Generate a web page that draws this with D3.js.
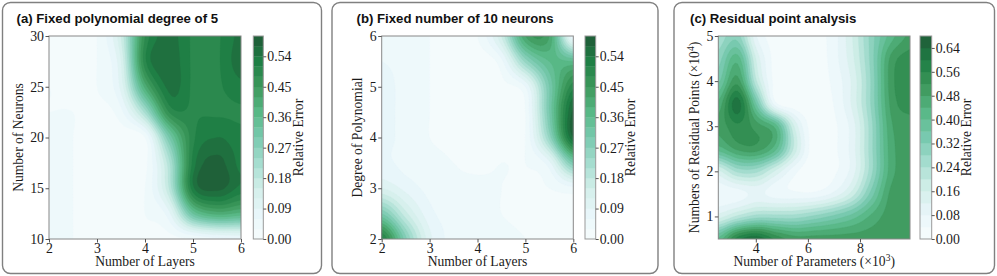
<!DOCTYPE html>
<html>
<head>
<meta charset="utf-8">
<script src="https://cdn.jsdelivr.net/npm/d3@7"></script>
<style>
body { margin: 0; background: #fff; }
svg text { font-family: "Liberation Serif", "DejaVu Serif", serif; fill: #1a1a1a; }
</style>
</head>
<body>
<script>
// (a) rows go from the top of the plot (30 neurons) down to 10
var layersA = [2, 2.5, 3, 3.5, 4, 4.5, 5, 5.5, 6];
var neuronsA = [30, 27.5, 25, 22.5, 20, 17.5, 15, 12.5, 10];
var errorA = [
  [0.02, 0.01, 0.03, 0.15, 0.48, 0.55, 0.505, 0.505, 0.55],
  [0.02, 0.01, 0.03, 0.12, 0.50, 0.56, 0.505, 0.505, 0.56],
  [0.03, 0.02, 0.03, 0.10, 0.40, 0.55, 0.505, 0.505, 0.53],
  [0.03, 0.03, 0.02, 0.05, 0.22, 0.48, 0.505, 0.505, 0.505],
  [0.04, 0.03, 0.02, 0.01, 0.03, 0.30, 0.50, 0.54, 0.52],
  [0.04, 0.03, 0.02, 0.01, 0.02, 0.20, 0.52, 0.58, 0.53],
  [0.04, 0.03, 0.02, 0.01, 0.03, 0.18, 0.53, 0.58, 0.53],
  [0.04, 0.03, 0.02, 0.02, 0.03, 0.08, 0.33, 0.40, 0.38],
  [0.04, 0.03, 0.02, 0.02, 0.02, 0.02, 0.03, 0.05, 0.06]
];
var xTicksA = [2, 3, 4, 5, 6];
var yTicksA = [10, 15, 20, 25, 30];
var cbTicksA = [0, 0.09, 0.18, 0.27, 0.36, 0.45, 0.54];

// (b) rows go from degree 6 down to 2
var layersB = [2, 2.5, 3, 3.5, 4, 4.5, 5, 5.5, 6];
var degreeB = [6, 5.5, 5, 4.5, 4, 3.5, 3, 2.5, 2];
var errorB = [
  [0.05, 0.04, 0.03, 0.02, 0.03, 0.15, 0.42, 0.42, 0.05],
  [0.06, 0.05, 0.03, 0.01, 0.01, 0.05, 0.25, 0.36, 0.36],
  [0.07, 0.05, 0.03, 0.01, 0.01, 0.02, 0.06, 0.30, 0.50],
  [0.07, 0.05, 0.03, 0.01, 0.01, 0.01, 0.03, 0.30, 0.58],
  [0.07, 0.05, 0.03, 0.02, 0.01, 0.01, 0.03, 0.25, 0.57],
  [0.07, 0.05, 0.04, 0.03, 0.02, 0.03, 0.03, 0.08, 0.30],
  [0.12, 0.08, 0.05, 0.04, 0.04, 0.03, 0.02, 0.03, 0.05],
  [0.30, 0.16, 0.07, 0.05, 0.04, 0.03, 0.02, 0.02, 0.03],
  [0.52, 0.28, 0.10, 0.05, 0.04, 0.04, 0.03, 0.02, 0.03]
];
var xTicksB = [2, 3, 4, 5, 6];
var yTicksB = [2, 3, 4, 5, 6];
var cbTicksB = [0, 0.09, 0.18, 0.27, 0.36, 0.45, 0.54];

// (c) parameters (x10^3) by residual points (x10^4), rows from 5 down to 0.5
var paramsC = [2.56, 3.296, 4.032, 4.768, 5.504, 6.24, 6.976, 7.712, 8.448, 9.184, 9.92];
var pointsC = [5, 4.5, 4, 3.5, 3, 2.5, 2, 1.5, 1, 0.5];
var errorC = [
  [0.25, 0.30, 0.08, 0.02, 0.01, 0.02, 0.06, 0.16, 0.30, 0.42, 0.49],
  [0.30, 0.42, 0.15, 0.02, 0.01, 0.01, 0.06, 0.15, 0.30, 0.49, 0.54],
  [0.35, 0.50, 0.20, 0.02, 0.01, 0.01, 0.05, 0.13, 0.29, 0.50, 0.55],
  [0.45, 0.62, 0.35, 0.05, 0.01, 0.01, 0.04, 0.13, 0.29, 0.49, 0.54],
  [0.49, 0.55, 0.50, 0.42, 0.15, 0.01, 0.03, 0.10, 0.27, 0.47, 0.50],
  [0.42, 0.49, 0.50, 0.41, 0.18, 0.01, 0.03, 0.10, 0.27, 0.46, 0.50],
  [0.15, 0.25, 0.25, 0.15, 0.05, 0.01, 0.03, 0.10, 0.27, 0.46, 0.50],
  [0.05, 0.06, 0.09, 0.06, 0.05, 0.05, 0.09, 0.18, 0.34, 0.49, 0.50],
  [0.14, 0.21, 0.26, 0.26, 0.26, 0.29, 0.33, 0.38, 0.45, 0.50, 0.50],
  [0.41, 0.58, 0.63, 0.55, 0.50, 0.50, 0.50, 0.50, 0.50, 0.50, 0.50]
];
var xTicksC = [4, 6, 8];
var yTicksC = [1, 2, 3, 4, 5];
var cbTicksC = [0, 0.08, 0.16, 0.24, 0.32, 0.40, 0.48, 0.56, 0.64];

var bugn = ["#f7fcfd", "#e5f5f9", "#ccece6", "#99d8c9", "#66c2a4", "#41ae76", "#238b45", "#006d2c", "#00441b"];
var cmap = d3.scaleLinear().domain(d3.range(9).map(function(i) { return i / 8; })).range(bugn);

var svg = d3.select("body").append("svg").attr("width", 997).attr("height", 276);

function cubic(p0, p1, p2, p3, t) {
  return p1 + 0.5 * t * (p2 - p0 + t * (2 * p0 - 5 * p1 + 4 * p2 - p3 + t * (3 * (p1 - p2) + p3 - p0)));
}

// smooth the grid for drawing (catmull-rom between the read values)
function smoothGrid(z, k, top) {
  var ny = z.length, nx = z[0].length;
  var get = function(j, i) { return z[Math.max(0, Math.min(ny - 1, j))][Math.max(0, Math.min(nx - 1, i))]; };
  var NX = (nx - 1) * k + 1, NY = (ny - 1) * k + 1, out = new Array(NX * NY);
  for (var J = 0; J < NY; J++) {
    var fj = J / k, j = Math.min(Math.floor(fj), ny - 2), tj = fj - j;
    for (var I = 0; I < NX; I++) {
      var fi = I / k, i = Math.min(Math.floor(fi), nx - 2), ti = fi - i;
      var col = [];
      for (var m = -1; m <= 2; m++) col.push(cubic(get(j + m, i - 1), get(j + m, i), get(j + m, i + 1), get(j + m, i + 2), ti));
      out[J * NX + I] = Math.max(0, Math.min(top - 1e-6, cubic(col[0], col[1], col[2], col[3], tj)));
    }
  }
  return {values: out, nx: NX, ny: NY};
}

function drawPanel(p, idx) {
  var g = svg.append("g");
  g.append("rect")
    .attr("x", p.box[0]).attr("y", 2.5)
    .attr("width", p.box[1] - p.box[0]).attr("height", 271)
    .attr("rx", 8).attr("fill", "none")
    .attr("stroke", "#808080").attr("stroke-width", 1.4);

  g.append("text")
    .attr("x", p.titleX).attr("y", 22.5)
    .style("font-family", "'Liberation Sans', Arial, sans-serif")
    .style("font-weight", "bold").style("font-size", "13.2px").style("fill", "#111")
    .text(p.title);

  var x = d3.scaleLinear().domain([p.xs[0], p.xs[p.xs.length - 1]]).range([p.l, p.r]);
  var y = d3.scaleLinear().domain([p.ys[p.ys.length - 1], p.ys[0]]).range([239, 36]);

  var levels = d3.range(0, p.top - 1e-9, p.step);
  var alpha = 0.88;
  var colorOf = function(lv) {
    return d3.interpolateRgb("#ffffff", cmap((lv + p.step / 2) / p.top))(alpha);
  };

  var grid = smoothGrid(p.z, 8, p.top);
  var gx = d3.scaleLinear().domain([0.5, grid.nx - 0.5]).range([p.xs[0], p.xs[p.xs.length - 1]]);
  var gy = d3.scaleLinear().domain([0.5, grid.ny - 0.5]).range([p.ys[0], p.ys[p.ys.length - 1]]);
  var path = d3.geoPath(d3.geoTransform({
    point: function(px, py) { this.stream.point(x(gx(px)), y(gy(py))); }
  }));

  svg.append("clipPath").attr("id", "clip" + idx)
    .append("rect").attr("x", p.l).attr("y", 36).attr("width", p.r - p.l).attr("height", 203);

  var contours = d3.contours().size([grid.nx, grid.ny]).thresholds(levels)(grid.values);
  g.append("g").attr("clip-path", "url(#clip" + idx + ")")
    .selectAll("path").data(contours).enter().append("path")
      .attr("d", path)
      .attr("fill", function(d) { return colorOf(d.value); })
      .attr("stroke", function(d) { return colorOf(d.value); })
      .attr("stroke-width", 0.3);

  g.append("rect")
    .attr("x", p.l).attr("y", 36).attr("width", p.r - p.l).attr("height", 203)
    .attr("fill", "none").attr("stroke", "#888").attr("stroke-width", 1);

  var xAxis = g.append("g").attr("transform", "translate(0,239)")
    .call(d3.axisBottom(x).tickValues(p.xTicks).tickSize(3.5).tickPadding(0.5).tickFormat(d3.format("d")));
  var yAxis = g.append("g").attr("transform", "translate(" + p.l + ",0)")
    .call(d3.axisLeft(y).tickValues(p.yTicks).tickSize(3.5).tickPadding(1.5).tickFormat(d3.format("d")));
  [xAxis, yAxis].forEach(function(a) {
    a.select(".domain").remove();
    a.selectAll("line").attr("stroke", "#555");
    a.selectAll("text").style("font-size", "13.8px").style("font-family", "'Liberation Serif', serif");
  });

  var xl = g.append("text")
    .attr("x", (p.l + p.r) / 2).attr("y", 266)
    .attr("text-anchor", "middle").style("font-size", "13.6px");
  p.xLabel.forEach(function(s) {
    xl.append("tspan").attr("dy", s[1]).style("font-size", s[2]).text(s[0]);
  });
  var yl = g.append("text")
    .attr("transform", "translate(" + p.yLabelX + "," + 137.5 + ") rotate(-90)")
    .attr("dy", "0.35em")
    .attr("text-anchor", "middle").style("font-size", "13.6px");
  p.yLabel.forEach(function(s) {
    yl.append("tspan").attr("dy", s[1]).style("font-size", s[2]).text(s[0]);
  });

  // colorbar
  var cy = d3.scaleLinear().domain([0, p.top]).range([239, 36]);
  g.append("g").selectAll("rect").data(levels).enter().append("rect")
    .attr("x", p.cl).attr("width", p.cr - p.cl)
    .attr("y", function(d) { return cy(d + p.step); })
    .attr("height", function(d) { return cy(d) - cy(d + p.step) + 0.3; })
    .attr("fill", function(d) { return colorOf(d); });
  g.append("rect")
    .attr("x", p.cl).attr("y", 36).attr("width", p.cr - p.cl).attr("height", 203)
    .attr("fill", "none").attr("stroke", "#999").attr("stroke-width", 1);
  var cAxis = g.append("g").attr("transform", "translate(" + p.cr + ",0)")
    .call(d3.axisRight(cy).tickValues(p.cbTicks).tickSize(3).tickPadding(1).tickFormat(d3.format(".2f")));
  cAxis.select(".domain").remove();
  cAxis.selectAll("line").attr("stroke", "#555");
  cAxis.selectAll("text").style("font-size", "13.8px").style("font-family", "'Liberation Serif', serif");

  g.append("text")
    .attr("transform", "translate(" + (p.cr + 35) + ",137.5) rotate(-90)")
    .attr("dy", "0.35em").attr("text-anchor", "middle")
    .style("font-size", "13.6px").text("Relative Error");
}

var panels = [
  {box: [2.5, 321.5], titleX: 16.5, title: "(a) Fixed polynomial degree of 5",
   l: 49, r: 241, cl: 253.3, cr: 263.3, yLabelX: 23,
   xs: layersA, ys: neuronsA, z: errorA, top: 0.60, step: 0.03,
   xTicks: xTicksA, yTicks: yTicksA, cbTicks: cbTicksA,
   xLabel: [["Number of Layers", 0, "13.6px"]],
   yLabel: [["Number of Neurons", 0, "13.6px"]]},
  {box: [332, 658], titleX: 356.5, title: "(b) Fixed number of 10 neurons",
   l: 381.7, r: 573.3, cl: 585, cr: 595.7, yLabelX: 361.7,
   xs: layersB, ys: degreeB, z: errorB, top: 0.60, step: 0.03,
   xTicks: xTicksB, yTicks: yTicksB, cbTicks: cbTicksB,
   xLabel: [["Number of Layers", 0, "13.6px"]],
   yLabel: [["Degree of Polynomial", 0, "13.6px"]]},
  {box: [674, 994.5], titleX: 690, title: "(c) Residual point analysis",
   l: 718.3, r: 910, cl: 920, cr: 931.7, yLabelX: 699,
   xs: paramsC, ys: pointsC, z: errorC, top: 0.68, step: 0.04,
   xTicks: xTicksC, yTicks: yTicksC, cbTicks: cbTicksC,
   xLabel: [["Number of Parameters (\u00d710", 0, "13.6px"], ["3", -5, "9.5px"], [")", 5, "13.6px"]],
   yLabel: [["Numbers of Residual Points (\u00d710", 0, "13.6px"], ["4", -5, "9.5px"], [")", 5, "13.6px"]]}
];

panels.forEach(drawPanel);
</script>
</body>
</html>
